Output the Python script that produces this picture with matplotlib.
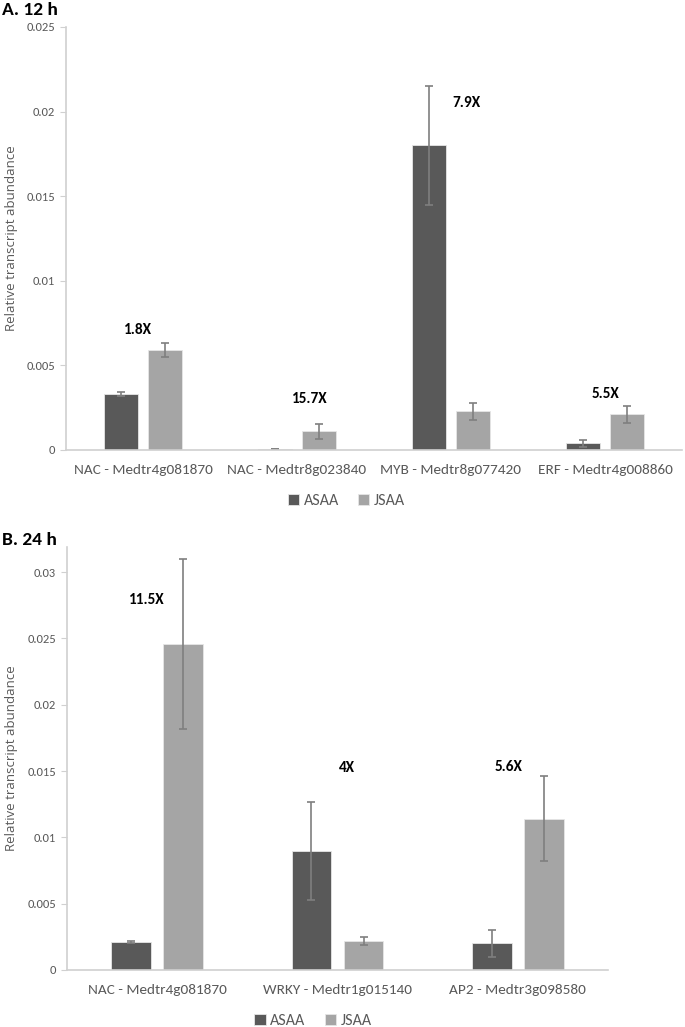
import matplotlib
matplotlib.use('Agg')
import matplotlib.pyplot as plt
import numpy as np

plt.rcParams['font.family'] = ['Carlito', 'Liberation Sans Narrow', 'DejaVu Sans']

# Panel A - 12 h
genes_a = ['NAC - Medtr4g081870', 'NAC - Medtr8g023840', 'MYB - Medtr8g077420', 'ERF - Medtr4g008860']
asaa_a = [0.0033, 0.00005, 0.0180, 0.0004]
asaa_a_err = [0.00012, 0.00002, 0.0035, 0.0002]
jsaa_a = [0.0059, 0.0011, 0.0023, 0.0021]
jsaa_a_err = [0.0004, 0.00045, 0.0005, 0.0005]
fold_a = ['1.8X', '15.7X', '7.9X', '5.5X']
fold_a_y = [0.0071, 0.0030, 0.0205, 0.0033]
fold_a_dx = [-0.03, 0.08, 0.10, 0.0]

# Panel B - 24 h
genes_b = ['NAC - Medtr4g081870', 'WRKY - Medtr1g015140', 'AP2 - Medtr3g098580']
asaa_b = [0.0021, 0.0090, 0.0020]
asaa_b_err = [0.0001, 0.0037, 0.00105]
jsaa_b = [0.0246, 0.0022, 0.0114]
jsaa_b_err = [0.0064, 0.0003, 0.0032]
fold_b = ['11.5X', '4X', '5.6X']
fold_b_y = [0.0279, 0.0152, 0.0153]
fold_b_dx = [-0.06, 0.05, -0.05]

ticks = [0, 0.005, 0.01, 0.015, 0.02, 0.025, 0.03]
tick_labels = ['0', '0.005', '0.01', '0.015', '0.02', '0.025', '0.03']

dark = '#595959'
light = '#a5a5a5'
axis_col = '#d0d0d0'
text_col = '#595959'


def draw_panel(ax, genes, asaa, asaa_err, jsaa, jsaa_err, folds, fold_y, fold_dx, ymax, label_x, legend_x):
    x = np.arange(len(genes))
    w = 0.22
    gap = 0.07
    err_kw = dict(ecolor='#7f7f7f', elinewidth=1.2, capsize=3, capthick=1.2)
    ax.bar(x - (w + gap) / 2, asaa, w, yerr=asaa_err, color=dark, edgecolor='#e6e6e6',
           linewidth=0.6, label='ASAA', error_kw=err_kw, zorder=2)
    ax.bar(x + (w + gap) / 2, jsaa, w, yerr=jsaa_err, color=light, edgecolor='#e6e6e6',
           linewidth=0.6, label='JSAA', error_kw=err_kw, zorder=2)
    for i, f in enumerate(folds):
        ax.text(x[i] + fold_dx[i], fold_y[i], f, ha='center', va='center',
                fontsize=11, fontweight='bold', color='black')
    ax.set_xlim(-0.5, len(genes) - 0.5)
    ax.set_ylim(0, ymax)
    n = int(ymax / 0.005 + 1e-6) + 1
    ax.set_yticks(ticks[:n])
    ax.set_yticklabels(tick_labels[:n])
    ax.set_xticks(x)
    ax.set_xticklabels(genes, fontsize=11, color=text_col)
    ax.tick_params(axis='x', length=0, pad=10)
    ax.tick_params(axis='y', length=4, color=axis_col, labelsize=9, labelcolor=text_col, pad=4)
    for s in ['top', 'right']:
        ax.spines[s].set_visible(False)
    for s in ['left', 'bottom']:
        ax.spines[s].set_color(axis_col)
        ax.spines[s].set_linewidth(1.2)
    ax.set_ylabel('Relative transcript abundance', fontsize=9.5, color=text_col,
                  family=['Open Sans', 'DejaVu Sans'])
    ax.yaxis.set_label_coords(label_x, 0.5)
    leg = ax.legend(loc='center', bbox_to_anchor=(legend_x, -0.12), ncol=2, frameon=False,
                    fontsize=11.5, handlelength=0.7, handleheight=0.7, handletextpad=0.3,
                    columnspacing=1.2)
    for t in leg.get_texts():
        t.set_color(text_col)
    return ax


fig = plt.figure(figsize=(6.85, 10.27), dpi=100)

ax_a = fig.add_axes([66 / 685, 1 - 450 / 1027, 616 / 685, 423 / 1027])
draw_panel(ax_a, genes_a, asaa_a, asaa_a_err, jsaa_a, jsaa_a_err, fold_a, fold_a_y, fold_a_dx,
           0.025, (18 - 66) / 616, 0.455)

ax_b = fig.add_axes([67 / 685, 1 - 970 / 1027, 541 / 685, 423 / 1027])
draw_panel(ax_b, genes_b, asaa_b, asaa_b_err, jsaa_b, jsaa_b_err, fold_b, fold_b_y, fold_b_dx,
           0.0319, (18 - 67) / 541, 0.455)

fig.text(2 / 685, 1 - 10 / 1027, 'A. 12 h', fontsize=14, fontweight='bold', va='center', ha='left')
fig.text(2 / 685, 1 - 540 / 1027, 'B. 24 h', fontsize=14, fontweight='bold', va='center', ha='left')

fig.savefig('out.png', dpi=100)
